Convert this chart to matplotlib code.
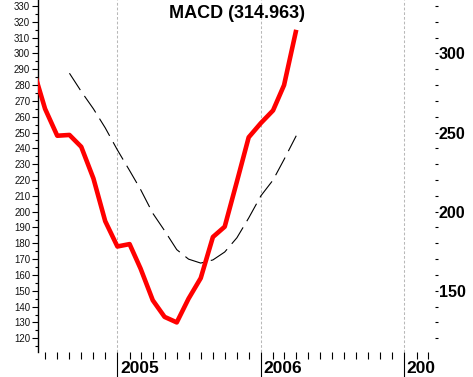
import matplotlib
matplotlib.use('Agg')
import matplotlib.pyplot as plt
import matplotlib.dates as mdates
from matplotlib.ticker import MultipleLocator, FixedLocator, NullFormatter
from matplotlib.transforms import Bbox, TransformedBbox, blended_transform_factory, offset_copy
import datetime as dt

# ---- data ----
macd_dates = ['2004-06-01', '2004-07-01', '2004-08-01', '2004-09-01', '2004-10-01', '2004-11-01',
              '2004-12-01', '2005-01-01', '2005-02-01', '2005-03-01', '2005-04-01', '2005-05-01',
              '2005-06-01', '2005-07-01', '2005-08-01', '2005-09-01', '2005-10-01', '2005-11-01',
              '2005-12-01', '2006-01-01', '2006-02-01', '2006-03-01', '2006-04-01']
macd_values = [290, 265, 248, 248.5, 241, 221, 194, 178, 179.5, 164, 144, 133.5,
               130, 145, 158, 184, 190.5, 219, 247, 256, 264, 280, 314.963]

signal_dates = ['2004-09-01', '2004-10-01', '2004-11-01', '2004-12-01', '2005-01-01', '2005-02-01',
                '2005-03-01', '2005-04-01', '2005-05-01', '2005-06-01', '2005-07-01', '2005-08-01',
                '2005-09-01', '2005-10-01', '2005-11-01', '2005-12-01', '2006-01-01', '2006-02-01',
                '2006-03-01', '2006-04-01']
signal_values = [287.5, 276, 265, 253, 239, 226, 214, 199, 188, 176, 170, 167.5,
                 169.5, 174.5, 183.5, 196, 210, 220, 233, 248]

year_labels = ['2005', '2006', '2007']
right_labels = [150, 200, 250, 300]
title = 'MACD (314.963)'

# ---- figure ----
W, H = 473, 377
FONT = 'Liberation Sans'
fig = plt.figure(figsize=(W / 100, H / 100), dpi=100)
fig.patch.set_facecolor('white')
ax = fig.add_axes([38 / W, 25 / H, (435 - 38) / W, 352 / H])

to_d = lambda s: dt.datetime.strptime(s, '%Y-%m-%d')
mx = [to_d(s) for s in macd_dates]
sx = [to_d(s) for s in signal_dates]

ax.set_xlim(dt.datetime(2004, 6, 13), dt.datetime(2007, 3, 20))
ax.set_ylim(111.3, 333.8)

for y in year_labels:
    ax.axvline(dt.datetime(int(y), 1, 1), color='#b8b8b8', lw=0.75,
               linestyle=(0, (2.6, 1.9)), zorder=1)

ax.plot(sx, signal_values, color='black', lw=0.8, linestyle=(0, (18, 6.5)), zorder=2)
ax.plot(mx, macd_values, color='#ff0000', lw=3.3, solid_joinstyle='round',
        solid_capstyle='butt', zorder=3)

for side in ['top', 'right', 'bottom']:
    ax.spines[side].set_visible(False)
ax.spines['left'].set_linewidth(1.0)

# x axis
ax.xaxis.set_major_locator(mdates.YearLocator())
ax.xaxis.set_minor_locator(mdates.MonthLocator())
ax.xaxis.set_major_formatter(NullFormatter())
ax.tick_params(axis='x', which='major', length=18, width=0.8, direction='out')
ax.tick_params(axis='x', which='minor', length=4.7, width=0.8, direction='out')

# left y axis
ax.yaxis.set_major_locator(MultipleLocator(10))
ax.yaxis.set_minor_locator(MultipleLocator(5))
ax.tick_params(axis='y', which='major', length=4.3, width=0.8, pad=1.3,
               labelsize=6.9, labelcolor='#111111')
ax.tick_params(axis='y', which='minor', length=2.5, width=0.8)
for lab in ax.get_yticklabels():
    lab.set_fontfamily(FONT)

# right y axis
tw = ax.twinx()
tw.set_ylim(ax.get_ylim())
for side in ['top', 'right', 'bottom', 'left']:
    tw.spines[side].set_visible(False)
tw.yaxis.set_major_locator(FixedLocator(right_labels))
tw.yaxis.set_minor_locator(MultipleLocator(10))
tw.tick_params(axis='y', which='both', length=2.3, width=0.8, pad=0.3,
               labelsize=11.5)
for lab in tw.get_yticklabels():
    lab.set_fontfamily(FONT)
    lab.set_fontweight('bold')

# title
ax.text(0.5, 1 - 13 / 352, title, transform=ax.transAxes, ha='center', va='center',
        fontsize=13, fontweight='bold', family=FONT, zorder=5)

# year labels (clipped at plot right edge)
clip = TransformedBbox(Bbox([[0, 0], [435 / W, 1]]), fig.transFigure)
base = blended_transform_factory(ax.transData, fig.transFigure)
tr = offset_copy(base, fig=fig, x=2.5, y=0, units='dots')
for y in year_labels:
    t = fig.text(mdates.date2num(dt.datetime(int(y), 1, 1)), (377 - 372.7) / H, y,
                 transform=tr, ha='left', va='baseline', fontsize=12.5,
                 fontweight='bold', family=FONT)
    t.set_clip_on(True)
    t.set_clip_box(clip)

fig.savefig('out.png', dpi=100, facecolor='white')
